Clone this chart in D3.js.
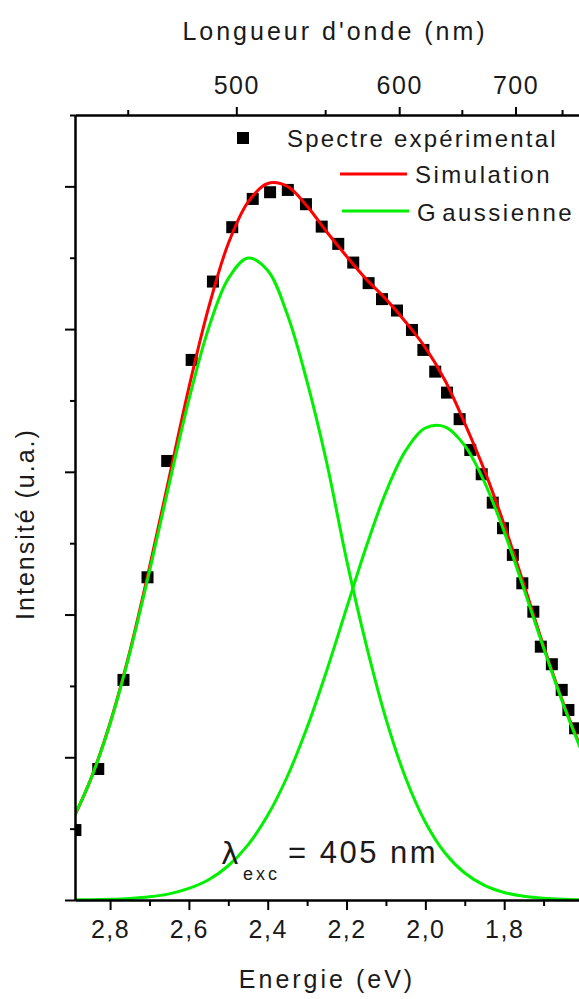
<!DOCTYPE html>
<html><head><meta charset="utf-8">
<script src="https://cdn.jsdelivr.net/npm/d3@7"></script>
<style>
body{margin:0;background:#fff}
svg{display:block;font-family:"Liberation Sans",Arial,sans-serif}
</style>
</head><body>
<svg id="chart" width="579" height="999"></svg>
<script>
// ---------- data ----------
const expEnergy = [2.888, 2.830, 2.766, 2.705, 2.655, 2.593, 2.539, 2.490, 2.438, 2.394, 2.349, 2.303,
  2.263, 2.221, 2.183, 2.144, 2.110, 2.072, 2.034, 2.005, 1.975, 1.945, 1.913, 1.886, 1.857, 1.829,
  1.803, 1.778, 1.754, 1.726, 1.707, 1.679, 1.654, 1.637, 1.620];
const expIntensity = [0.49, 0.918, 1.542, 2.261, 3.076, 3.784, 4.333, 4.714, 4.912, 4.959, 4.975, 4.875,
  4.718, 4.597, 4.466, 4.322, 4.210, 4.130, 3.994, 3.854, 3.702, 3.555, 3.369, 3.153, 2.983, 2.784,
  2.605, 2.418, 2.219, 2.020, 1.775, 1.652, 1.472, 1.331, 1.203];

const curveEnergy = [2.89, 2.85, 2.80, 2.75, 2.70, 2.65, 2.60, 2.55, 2.50, 2.45, 2.40, 2.35, 2.30, 2.25,
  2.20, 2.15, 2.10, 2.05, 2.00, 1.95, 1.90, 1.85, 1.80, 1.75, 1.70, 1.65, 1.60];
const simulation = [0.59, 0.84, 1.24, 1.74, 2.33, 2.96, 3.59, 4.15, 4.60, 4.89, 5.02, 5.00, 4.86, 4.68,
  4.51, 4.35, 4.21, 4.05, 3.87, 3.64, 3.34, 3.01, 2.63, 2.21, 1.78, 1.38, 1.03];
const gaussian1 = [0.593, 0.839, 1.235, 1.730, 2.303, 2.914, 3.504, 4.006, 4.354, 4.498, 4.411, 4.100, 3.63,
  3.06, 2.385, 1.787, 1.269, 0.855, 0.545, 0.329, 0.189, 0.102, 0.053, 0.026, 0.012, 0.005, 0.002];
const gaussian2 = [0.001, 0.002, 0.005, 0.011, 0.022, 0.043, 0.081, 0.142, 0.240, 0.386, 0.593, 0.867, 1.210,
  1.610, 2.044, 2.475, 2.858, 3.148, 3.307, 3.315, 3.183, 2.928, 2.581, 2.181, 1.766, 1.370, 1.019];

const energyMajorTicks = [2.8, 2.6, 2.4, 2.2, 2.0, 1.8];
const energyMinorTicks = [2.7, 2.5, 2.3, 2.1, 1.9, 1.7];
const wavelengthMajorTicks = [500, 600, 700];
const wavelengthMinorTicks = [450, 550, 650, 750];
const intensityMajorTicks = [0, 1, 2, 3, 4, 5];
const intensityMinorTicks = [0.5, 1.5, 2.5, 3.5, 4.5, 5.5];

const legendLabels = ["Spectre expérimental", "Simulation", "Gaussienne"];
const HC = 1239.84; // eV·nm

// ---------- layout ----------
const svg = d3.select("#chart");
const plot = {left: 75, right: 583, top: 115, bottom: 900};
const x = d3.scaleLinear().domain([2.889, 1.6]).range([plot.left, plot.right]);
const y = d3.scaleLinear().domain([0, 5.5]).range([plot.bottom, plot.top]);
const xTop = d3.scaleLinear().domain(x.domain().map(e => e / HC)).range(x.range());
const textColor = "#1a1a1a";
const green = "#00f000";

svg.append("defs").append("clipPath").attr("id", "clip")
  .append("rect").attr("x", plot.left).attr("y", plot.top)
  .attr("width", plot.right - plot.left).attr("height", plot.bottom - plot.top);

const body = svg.append("g").attr("clip-path", "url(#clip)");

// squares
body.append("g").selectAll("rect").data(expEnergy).join("rect")
  .attr("x", (d) => x(d) - 6).attr("y", (d, i) => y(expIntensity[i]) - 6)
  .attr("width", 12).attr("height", 12).attr("fill", "#000");

const line = (vals) => d3.line()
  .x((d) => x(d))
  .y((d, i) => y(vals[i]))
  .curve(d3.curveCatmullRom.alpha(0.5))(curveEnergy);

body.append("path").attr("d", line(simulation)).attr("fill", "none")
  .attr("stroke", "#ff0000").attr("stroke-width", 3);
body.append("path").attr("d", line(gaussian1)).attr("fill", "none")
  .attr("stroke", green).attr("stroke-width", 3);
body.append("path").attr("d", line(gaussian2)).attr("fill", "none")
  .attr("stroke", green).attr("stroke-width", 3);

// ---------- axes ----------
function styleAxis(g) {
  g.select(".domain").attr("stroke", "#000").attr("stroke-width", 2);
  g.selectAll(".tick line").attr("stroke", "#000").attr("stroke-width", 2);
  g.selectAll("text").attr("fill", textColor).attr("font-size", 25)
    .attr("letter-spacing", "1.5px").attr("font-family", '"Liberation Sans", Arial, sans-serif');
}
const fmt = (d) => d.toFixed(1).replace(".", ",");

const gxMinor = svg.append("g").attr("transform", `translate(0,${plot.bottom})`)
  .call(d3.axisBottom(x).tickValues(energyMinorTicks).tickSize(6).tickSizeOuter(0).tickFormat(""));
styleAxis(gxMinor);
const gx = svg.append("g").attr("transform", `translate(0,${plot.bottom})`)
  .call(d3.axisBottom(x).tickValues(energyMajorTicks).tickSize(10).tickSizeOuter(0).tickFormat(fmt));
styleAxis(gx);
gx.selectAll("text").attr("y", 38).attr("dy", null);

const gtMinor = svg.append("g").attr("transform", `translate(0,${plot.top})`)
  .call(d3.axisTop(xTop).tickValues(wavelengthMinorTicks.map(w => 1 / w)).tickSize(5).tickSizeOuter(0).tickFormat(""));
styleAxis(gtMinor);
const gt = svg.append("g").attr("transform", `translate(0,${plot.top})`)
  .call(d3.axisTop(xTop).tickValues(wavelengthMajorTicks.map(w => 1 / w)).tickSize(8).tickSizeOuter(0)
    .tickFormat(u => String(Math.round(1 / u))));
styleAxis(gt);
gt.selectAll("text").attr("y", -21).attr("dy", null);

const gyMinor = svg.append("g").attr("transform", `translate(${plot.left},0)`)
  .call(d3.axisLeft(y).tickValues(intensityMinorTicks).tickSize(5).tickSizeOuter(0).tickFormat(""));
styleAxis(gyMinor);
const gy = svg.append("g").attr("transform", `translate(${plot.left},0)`)
  .call(d3.axisLeft(y).tickValues(intensityMajorTicks).tickSize(10).tickSizeOuter(0).tickFormat(""));
styleAxis(gy);

// axis titles
svg.append("text").attr("x", 327).attr("y", 988).attr("text-anchor", "middle")
  .attr("font-size", 25).attr("letter-spacing", "3px").attr("fill", textColor).text("Energie (eV)");
svg.append("text").attr("x", 335).attr("y", 40).attr("text-anchor", "middle")
  .attr("font-size", 25).attr("letter-spacing", "3px").attr("fill", textColor).text("Longueur d'onde (nm)");
svg.append("text").attr("transform", "translate(34,524) rotate(-90)").attr("text-anchor", "middle")
  .attr("font-size", 25).attr("letter-spacing", "2px").attr("fill", textColor).text("Intensité (u.a.)");

// legend
const lg = svg.append("g");
lg.append("rect").attr("x", 237).attr("y", 132).attr("width", 12).attr("height", 12).attr("fill", "#000");
lg.append("text").attr("x", 287).attr("y", 147).attr("font-size", 24).attr("letter-spacing", "2.2px")
  .attr("fill", textColor).text(legendLabels[0]);
lg.append("line").attr("x1", 340).attr("x2", 407).attr("y1", 174).attr("y2", 174)
  .attr("stroke", "#ff0000").attr("stroke-width", 3);
lg.append("text").attr("x", 415).attr("y", 183).attr("font-size", 24).attr("letter-spacing", "2.5px")
  .attr("fill", textColor).text(legendLabels[1]);
lg.append("line").attr("x1", 342).attr("x2", 409).attr("y1", 211).attr("y2", 211)
  .attr("stroke", green).attr("stroke-width", 3);
const gt3 = lg.append("text").attr("x", 417).attr("y", 221).attr("font-size", 24).attr("letter-spacing", "2.5px")
  .attr("fill", textColor);
gt3.append("tspan").text(legendLabels[2].slice(0, 1));
gt3.append("tspan").attr("dx", 4).text(legendLabels[2].slice(1));

// annotation
const ann = svg.append("g").attr("fill", textColor);
ann.append("text").attr("x", 221).attr("y", 864).attr("font-size", 30)
  .attr("font-family", '"DejaVu Sans", sans-serif').text("λ");
ann.append("text").attr("x", 243).attr("y", 880).attr("font-size", 18).attr("letter-spacing", "3px").text("exc");
ann.append("text").attr("x", 288).attr("y", 863).attr("font-size", 31).attr("letter-spacing", "2.5px").text("= 405 nm");
</script>
</body></html>
